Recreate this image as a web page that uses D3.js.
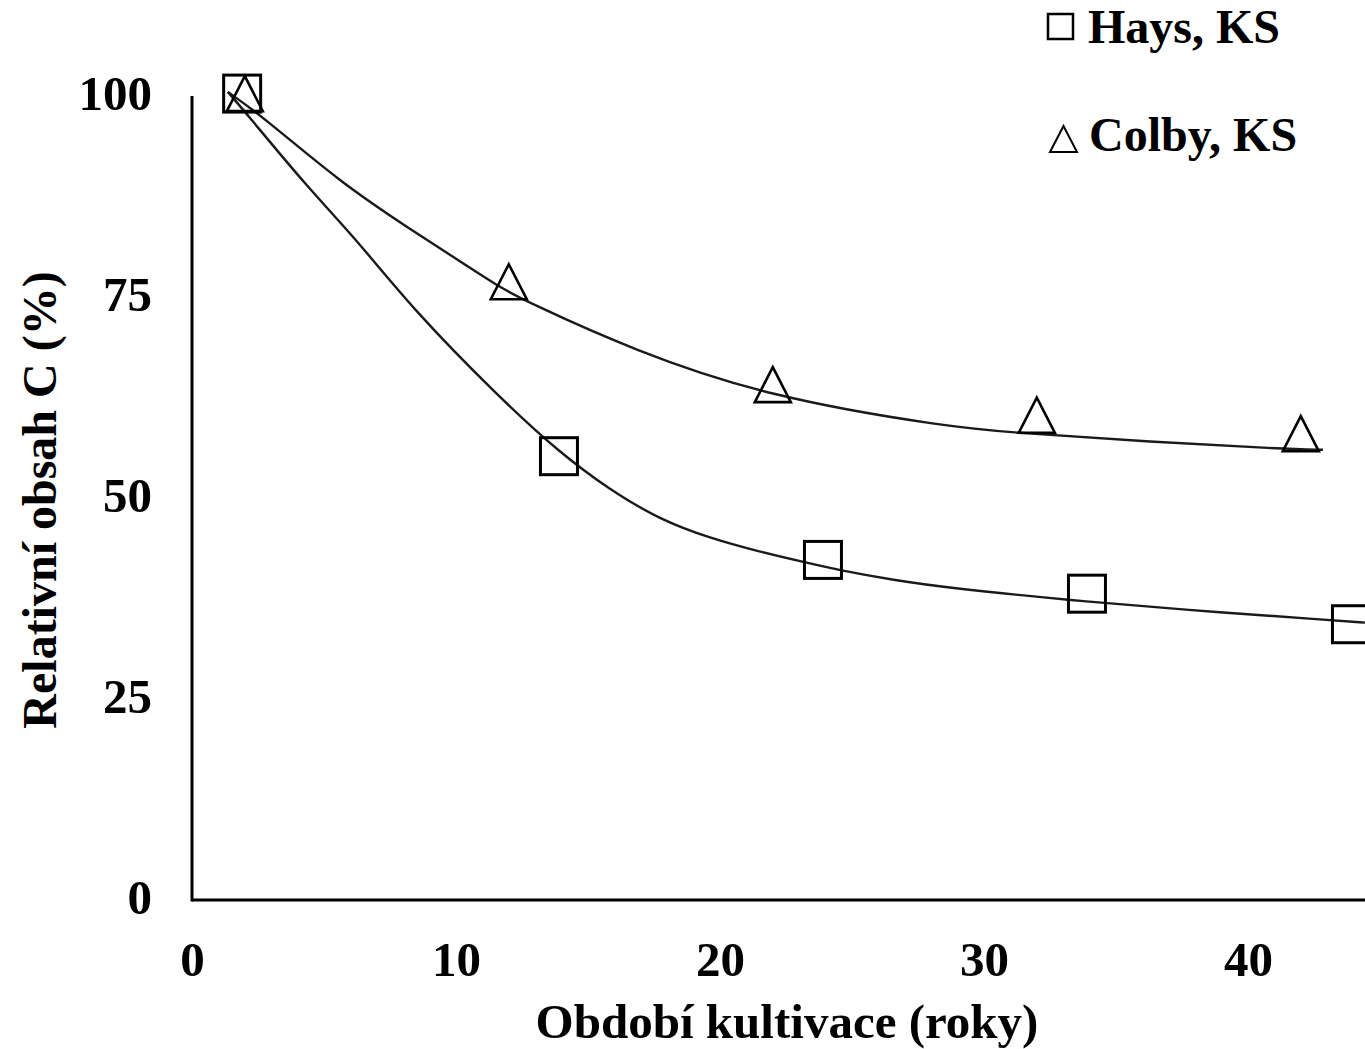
<!DOCTYPE html>
<html>
<head>
<meta charset="utf-8">
<script src="https://cdn.jsdelivr.net/npm/d3@7"></script>
<style>
  html, body { margin: 0; padding: 0; background: #fff; }
  svg { display: block; }
  text { font-family: "Liberation Serif", "Times New Roman", serif; font-weight: bold; fill: #000; }
</style>
</head>
<body>
<svg id="chart" width="1365" height="1049"></svg>
<script>
// ---- Data ----
const xTicks = [0, 10, 20, 30, 40];
const yTicks = [0, 25, 50, 75, 100];

const haysYears = [1.9, 13.9, 23.9, 33.9, 43.9];
const haysValues = [100.3, 55.2, 42.3, 38.1, 34.3];

const colbyYears = [2, 12, 22, 32, 42];
const colbyValues = [100.3, 76.9, 64.1, 60.3, 58.0];

// fitted trend curves
const haysCurveX = [1.36, 2.12, 4.36, 6.25, 8.33, 11.67, 13.94, 15.83, 17.73, 19.62, 21.52, 23.22, 24.55, 26.55, 28.71, 33.22, 37.54, 43.18, 44.43];
const haysCurveY = [100.5, 97.6, 88.7, 82.1, 73.6, 62.4, 55.6, 51.0, 47.3, 45.0, 43.3, 42.0, 41.0, 39.8, 38.8, 37.3, 36.1, 34.8, 34.5];

const colbyCurveX = [1.36, 2.69, 5.61, 8.14, 10.64, 11.67, 12.69, 16.70, 21.78, 28.71, 31.25, 36.29, 41.33, 42.84];
const colbyCurveY = [100.5, 97.4, 89.3, 83.7, 78.4, 76.2, 74.4, 68.4, 62.6, 58.8, 58.1, 57.0, 56.1, 56.0];

const legendLabels = ["Hays, KS", "Colby, KS"];
const xTitle = "Období kultivace (roky)";
const yTitle = "Relativní obsah C (%)";

// ---- Chart ----
const svg = d3.select("#chart");
const x = d3.scaleLinear().domain([0, 50]).range([192, 192 + 26.4 * 50]);
const y = d3.scaleLinear().domain([0, 100]).range([900, 96]);

// axes (lines and labels only, no tick marks)
const xAxis = svg.append("g").attr("transform", "translate(0,900)")
  .call(d3.axisBottom(x).tickValues(xTicks).tickSize(0).tickPadding(41));
xAxis.select(".domain").attr("stroke", "#000").attr("stroke-width", 3).attr("d", `M${x(0)},0H1365`);
xAxis.selectAll("text").style("font-size", "49px").attr("dy", "0.71em");

const yAxis = svg.append("g").attr("transform", "translate(192,0)")
  .call(d3.axisLeft(y).tickValues(yTicks).tickSize(0).tickPadding(40));
yAxis.select(".domain").attr("stroke", "#000").attr("stroke-width", 3).attr("d", `M0,${y(100)}V${y(0) + 1.5}`);
yAxis.selectAll("text").style("font-size", "49px").attr("dy", "0.28em");

// trend lines
const line = d3.line().x(d => x(d[0])).y(d => y(d[1])).curve(d3.curveBasis);
const haysCurve = haysCurveX.map((v, i) => [v, haysCurveY[i]]);
const colbyCurve = colbyCurveX.map((v, i) => [v, colbyCurveY[i]]);
svg.append("path").attr("d", line(haysCurve)).attr("fill", "none").attr("stroke", "#1a1a1a").attr("stroke-width", 2.4);
svg.append("path").attr("d", line(colbyCurve)).attr("fill", "none").attr("stroke", "#1a1a1a").attr("stroke-width", 2.4);

// markers
const sq = 37;
svg.selectAll(".hays").data(haysYears.map((v, i) => [v, haysValues[i]])).enter()
  .append("rect").attr("class", "hays")
  .attr("x", d => x(d[0]) - sq / 2).attr("y", d => y(d[1]) - sq / 2)
  .attr("width", sq).attr("height", sq)
  .attr("fill", "none").attr("stroke", "#000").attr("stroke-width", 3);

const tw = 36, th = 35;
const tri = d => { const cx = x(d[0]), cy = y(d[1]);
  return `M${cx},${cy - th / 2}L${cx + tw / 2},${cy + th / 2}L${cx - tw / 2},${cy + th / 2}Z`; };
svg.selectAll(".colby").data(colbyYears.map((v, i) => [v, colbyValues[i]])).enter()
  .append("path").attr("class", "colby").attr("d", tri)
  .attr("fill", "none").attr("stroke", "#000").attr("stroke-width", 2.6);

// legend
svg.append("rect").attr("x", 1048).attr("y", 14).attr("width", 25).attr("height", 25)
  .attr("fill", "none").attr("stroke", "#000").attr("stroke-width", 2.5);
svg.append("path").attr("d", "M1063.5,126L1077,152L1050,152Z")
  .attr("fill", "none").attr("stroke", "#000").attr("stroke-width", 2);
svg.append("text").attr("x", 1088).attr("y", 43).style("font-size", "48px").text(legendLabels[0]);
svg.append("text").attr("x", 1089).attr("y", 151).style("font-size", "48px").text(legendLabels[1]);

// axis titles
svg.append("text").attr("x", 787).attr("y", 1038).attr("text-anchor", "middle")
  .style("font-size", "49px").text(xTitle);
svg.append("text").attr("transform", "translate(56,500) rotate(-90)").attr("text-anchor", "middle")
  .style("font-size", "48px").text(yTitle);
</script>
</body>
</html>
